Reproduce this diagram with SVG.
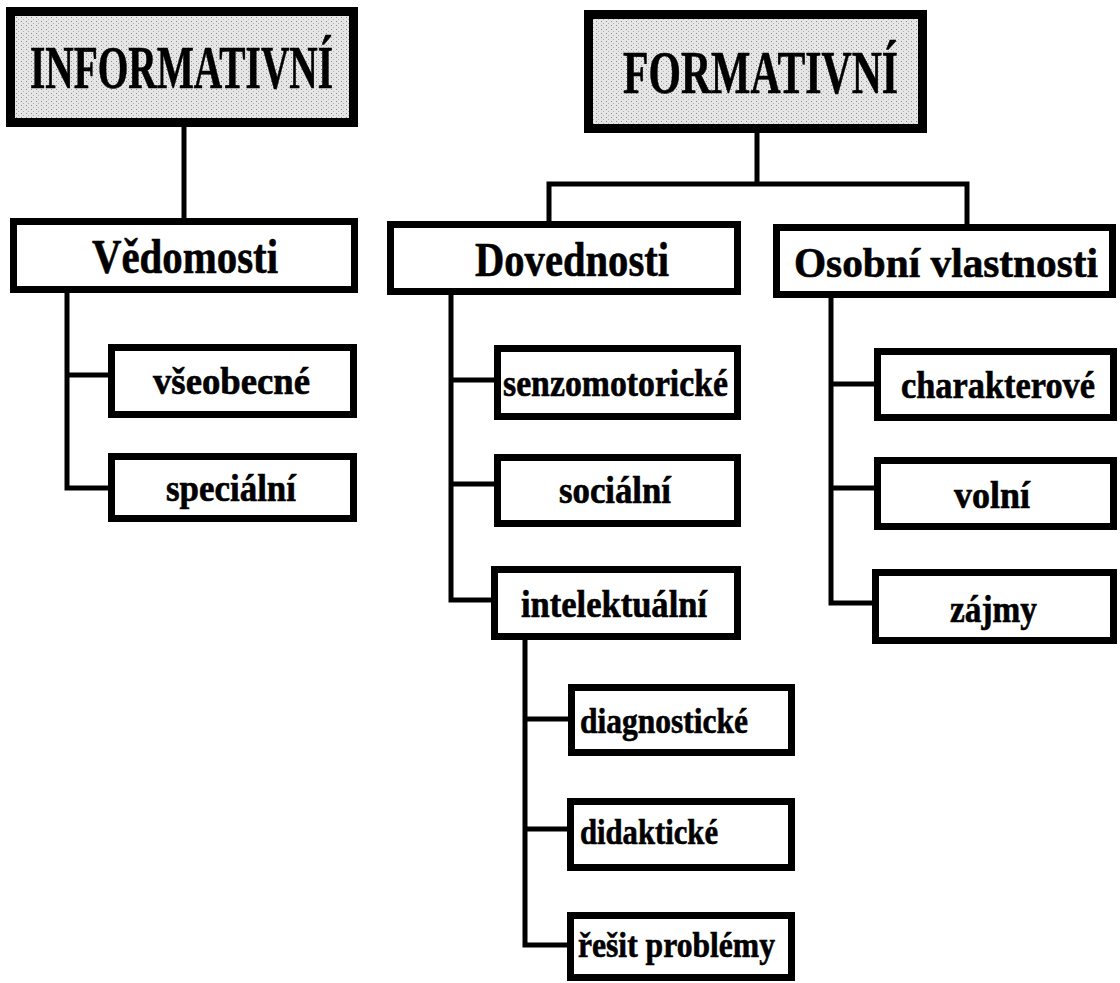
<svg xmlns="http://www.w3.org/2000/svg" width="1120" height="983" viewBox="0 0 1120 983">
<defs>
<pattern id="ht" width="5" height="4" patternUnits="userSpaceOnUse">
<rect width="5" height="4" fill="#e6e6e6"/>
<rect x="1" y="1" width="1" height="1" fill="#8c8c8c"/>
<rect x="3" y="3" width="1" height="1" fill="#b0b0b0"/>
</pattern>
</defs>
<style>
.box{fill:#fff;stroke:#000;stroke-width:7}
.top{fill:url(#ht);stroke:#000;stroke-width:9}
.c{fill:none;stroke:#000;stroke-width:5;stroke-linecap:square;stroke-linejoin:miter}
text{font-family:"Liberation Serif","Times New Roman",serif;font-weight:bold;fill:#000;stroke:#000;stroke-width:0.6}
.t1{font-size:62px}
.t2{font-size:48px}
.t2s{font-size:42px}
.t3{font-size:37px}
.t4{font-size:35px}
</style>
<rect width="1120" height="983" fill="#fff"/>
<g id="connectors">
<path class="c" d="M184 127V218"/>
<path class="c" d="M757 133V184M549 221V184H967V224"/>
<path class="c" d="M67 293V488H108M67 375H108"/>
<path class="c" d="M451 295V600H491M451 380H494M451 484H494"/>
<path class="c" d="M831 298V603H872M831 384H874M831 488H874"/>
<path class="c" d="M525 640V945H567M525 719H568M525 829H567"/>
</g>
<g id="n-informativni"><rect class="top" x="10.5" y="11.5" width="343" height="111"/><text class="t1" x="30" y="88" textLength="303" lengthAdjust="spacingAndGlyphs">INFORMATIVNÍ</text></g>
<g id="n-formativni"><rect class="top" x="588.5" y="14.5" width="334" height="114"/><text class="t1" x="623" y="93" textLength="275" lengthAdjust="spacingAndGlyphs">FORMATIVNÍ</text></g>
<g id="n-vedomosti"><rect class="box" x="13.5" y="221.5" width="341" height="68"/><text class="t2" x="92" y="273" textLength="186" lengthAdjust="spacingAndGlyphs">Vědomosti</text></g>
<g id="n-dovednosti"><rect class="box" x="390.5" y="224.5" width="347" height="67"/><text class="t2" x="475" y="276" textLength="194" lengthAdjust="spacingAndGlyphs">Dovednosti</text></g>
<g id="n-osobni"><rect class="box" x="776.5" y="227.5" width="336" height="67"/><text class="t2s" x="794" y="277" textLength="304" lengthAdjust="spacingAndGlyphs">Osobní vlastnosti</text></g>
<g id="n-vseobecne"><rect class="box" x="111.5" y="347.5" width="242" height="67"/><text class="t3" x="153" y="394" textLength="157" lengthAdjust="spacingAndGlyphs">všeobecné</text></g>
<g id="n-specialni"><rect class="box" x="111.5" y="456.5" width="242" height="62"/><text class="t3" x="166" y="501" textLength="130" lengthAdjust="spacingAndGlyphs">speciální</text></g>
<g id="n-senzomotoricke"><rect class="box" x="497.5" y="348.5" width="240" height="68"/><text class="t3" x="503" y="396" textLength="225" lengthAdjust="spacingAndGlyphs">senzomotorické</text></g>
<g id="n-socialni"><rect class="box" x="497.5" y="457.5" width="240" height="66"/><text class="t3" x="559" y="503" textLength="112" lengthAdjust="spacingAndGlyphs">sociální</text></g>
<g id="n-intelektualni"><rect class="box" x="494.5" y="569.5" width="243" height="67"/><text class="t3" x="521" y="617" textLength="186" lengthAdjust="spacingAndGlyphs">intelektuální</text></g>
<g id="n-charakterove"><rect class="box" x="877.5" y="351.5" width="236" height="66"/><text class="t3" x="901" y="398" textLength="194" lengthAdjust="spacingAndGlyphs">charakterové</text></g>
<g id="n-volni"><rect class="box" x="877.5" y="460.5" width="236" height="66"/><text class="t3" x="954" y="508" textLength="76" lengthAdjust="spacingAndGlyphs">volní</text></g>
<g id="n-zajmy"><rect class="box" x="875.5" y="572.5" width="238" height="68"/><text class="t3" x="950" y="622" textLength="87" lengthAdjust="spacingAndGlyphs">zájmy</text></g>
<g id="n-diagnosticke"><rect class="box" x="571.5" y="687.5" width="220" height="65"/><text class="t4" x="580" y="733" textLength="168" lengthAdjust="spacingAndGlyphs">diagnostické</text></g>
<g id="n-didakticke"><rect class="box" x="570.5" y="801.5" width="221" height="66"/><text class="t4" x="580" y="844" textLength="138" lengthAdjust="spacingAndGlyphs">didaktické</text></g>
<g id="n-resit"><rect class="box" x="570.5" y="915.5" width="221" height="62"/><text class="t4" x="578" y="957" textLength="197" lengthAdjust="spacingAndGlyphs">řešit problémy</text></g>
</svg>
